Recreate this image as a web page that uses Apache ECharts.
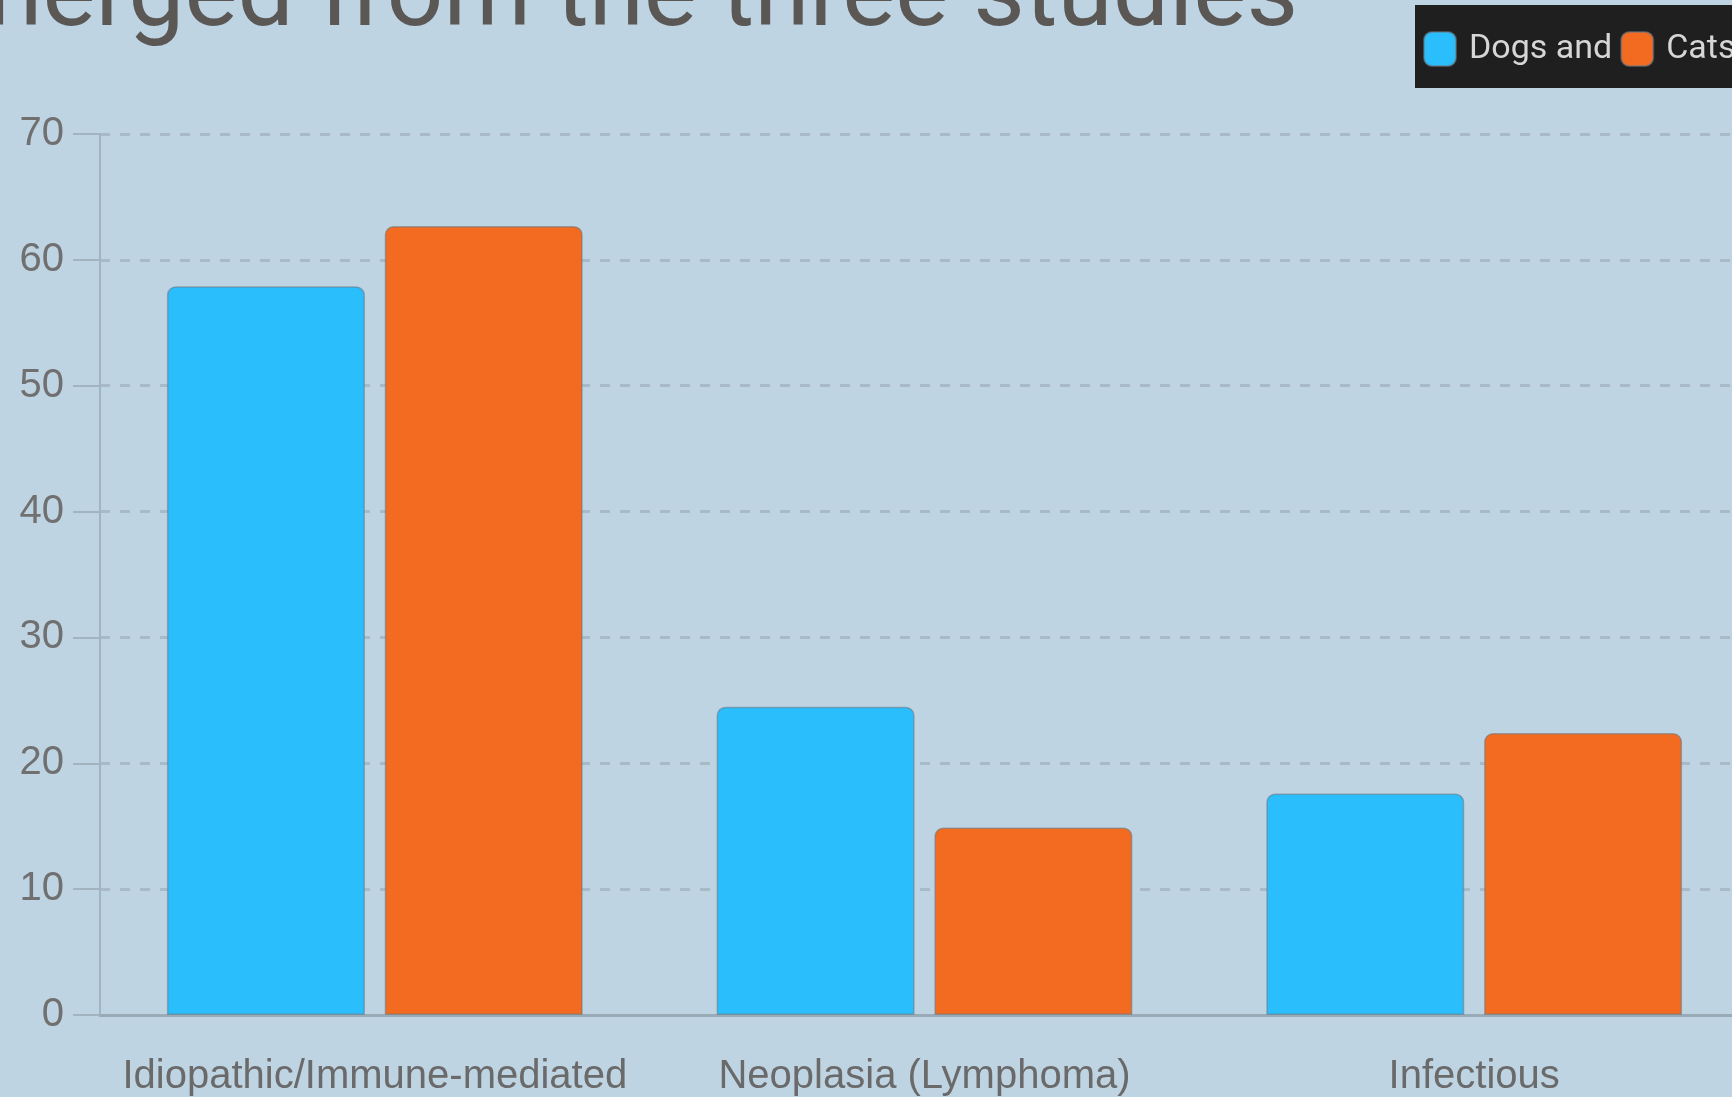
<!DOCTYPE html>
<html>
<head>
<meta charset="utf-8">
<script src="https://cdn.jsdelivr.net/npm/echarts@6/dist/echarts.min.js"></script>
<style>
html,body{margin:0;padding:0;overflow:hidden;background:#bfd4e2;}
#chart{position:absolute;left:0;top:0;width:1900px;height:1097px;}
</style>
</head>
<body>
<div id="chart"></div>
<script>
const titleText = 'emerged from the three studies';
const categories = ['Idiopathic/Immune-mediated', 'Neoplasia (Lymphoma)', 'Infectious'];
const seriesNames = ['Dogs and', 'Cats'];
const dogsValues = [57.9, 24.5, 17.6];
const catsValues = [62.7, 14.9, 22.4];
const yTicks = { min: 0, max: 70, interval: 10 };

const chart = echarts.init(document.getElementById('chart'), null, { renderer: 'canvas' });
const barStyle = (color) => ({
  color: color,
  borderColor: 'rgba(105,120,132,0.55)',
  borderWidth: 1.5,
  borderRadius: [8, 8, 0, 0]
});
chart.setOption({
  backgroundColor: '#bfd4e2',
  animation: false,
  title: {
    text: titleText,
    right: 602,
    top: -50,
    padding: 0,
    textStyle: { fontFamily: 'Roboto', fontSize: 100, fontWeight: 'normal', color: '#5a5755' }
  },
  legend: {
    left: 1415,
    top: 5,
    padding: [26, 8, 21, 8],
    backgroundColor: '#1f1f1f',
    itemWidth: 32,
    itemHeight: 34,
    itemGap: 8,
    icon: 'roundRect',
    textStyle: { fontFamily: 'Roboto', fontSize: 34, color: '#d6d6d6', padding: [0, 0, 0, 8] },
    data: seriesNames
  },
  grid: { left: 100, right: 151, top: 134, bottom: 81, containLabel: false },
  xAxis: {
    type: 'category',
    data: categories,
    axisLine: { show: true, lineStyle: { color: '#9aabb8', width: 3 } },
    axisTick: { show: false },
    axisLabel: { interval: 0, fontFamily: 'Liberation Sans', fontSize: 40, color: '#6a6a6a', margin: 42 }
  },
  yAxis: {
    type: 'value',
    min: yTicks.min,
    max: yTicks.max,
    interval: yTicks.interval,
    axisLine: { show: true, lineStyle: { color: '#a3b4c1', width: 2 } },
    axisTick: { show: true, length: 27, lineStyle: { color: '#a3b4c1', width: 2 } },
    axisLabel: { fontFamily: 'Liberation Sans', fontSize: 40, color: '#707070', margin: 36 },
    splitLine: { show: true, lineStyle: { color: '#a8bac8', width: 3, type: [10, 10] } }
  },
  series: [
    { name: seriesNames[0], type: 'bar', data: dogsValues, barWidth: 198, barGap: '10%', itemStyle: barStyle('#2abefd') },
    { name: seriesNames[1], type: 'bar', data: catsValues, barWidth: 198, barGap: '10%', itemStyle: barStyle('#f26b21') }
  ]
});
</script>
</body>
</html>
